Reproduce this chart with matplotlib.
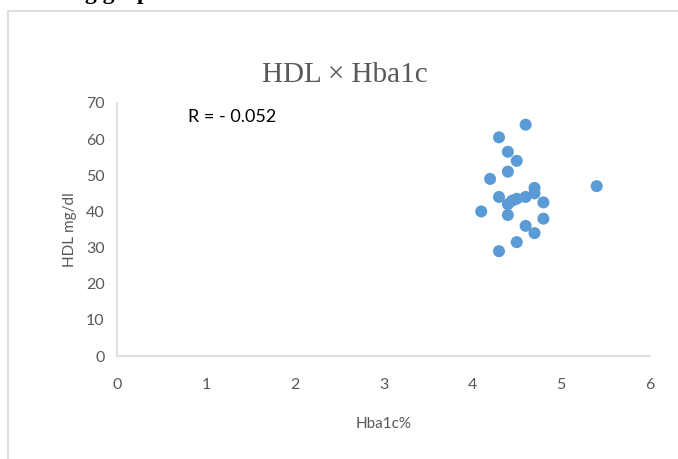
import numpy as np
import matplotlib
matplotlib.use('Agg')
import matplotlib.pyplot as plt
from matplotlib.patches import Rectangle

# Hba1c % vs HDL mg/dl
hba1c = [4.6, 4.3, 4.4, 4.5, 4.4, 4.2, 5.4, 4.7, 4.3, 4.4, 4.5, 4.6, 4.7,
         4.8, 4.45, 4.1, 4.4, 4.8, 4.6, 4.7, 4.5, 4.3]
hdl = [64, 60.5, 56.5, 54, 51, 49, 47, 46.5, 44, 42, 43.5, 44, 45,
       42.5, 43, 40, 39, 38, 36, 34, 31.5, 29]

x_ticks = [0, 1, 2, 3, 4, 5, 6]
y_ticks = [0, 10, 20, 30, 40, 50, 60, 70]

grey = '#595959'
line_grey = '#d9d9d9'

fig = plt.figure(figsize=(6.78, 4.59), dpi=100)
ax = fig.add_axes([0.1726, 0.2244, 0.7861, 0.5512])

ax.scatter(hba1c, hdl, s=75, color='#5B9BD5', edgecolors='none', zorder=3)

ax.set_xlim(0, 6)
ax.set_ylim(0, 70)
ax.set_xticks(x_ticks)
ax.set_yticks(y_ticks)
for s in ['top', 'right']:
    ax.spines[s].set_visible(False)
for s in ['left', 'bottom']:
    ax.spines[s].set_color(line_grey)
    ax.spines[s].set_linewidth(1.2)
ax.tick_params(length=0, labelsize=11.5, labelcolor=grey)
ax.tick_params(axis='x', pad=16)
ax.tick_params(axis='y', pad=9)
for lab in ax.get_xticklabels() + ax.get_yticklabels():
    lab.set_family('Lato')

ax.set_xlabel('Hba1c%', fontsize=11, color=grey, family='Lato', labelpad=18)
ax.set_ylabel('HDL mg/dl', fontsize=11, color=grey, family='Lato', labelpad=6)

ax.text(0.8, 66, 'R = - 0.052', fontsize=13, color='black', family='Lato',
        va='center', ha='left')

fig.text(0.509, 0.837, 'HDL × Hba1c', fontsize=21, color=grey,
         family='Liberation Serif', ha='center', va='center')

# outer chart frame
fig.patches.append(Rectangle((8 / 678, -0.1), 1.2, 1 - 11 / 459 + 0.1,
                             transform=fig.transFigure, fill=False,
                             edgecolor=line_grey, linewidth=1.2))

# clipped caption line of the page above the chart
fig.text(-0.01, 1.014, 'Scattering graph', fontsize=17, fontweight='bold',
         family='Liberation Serif', color='black', ha='left', va='center')

fig.savefig('out.png', dpi=100)
